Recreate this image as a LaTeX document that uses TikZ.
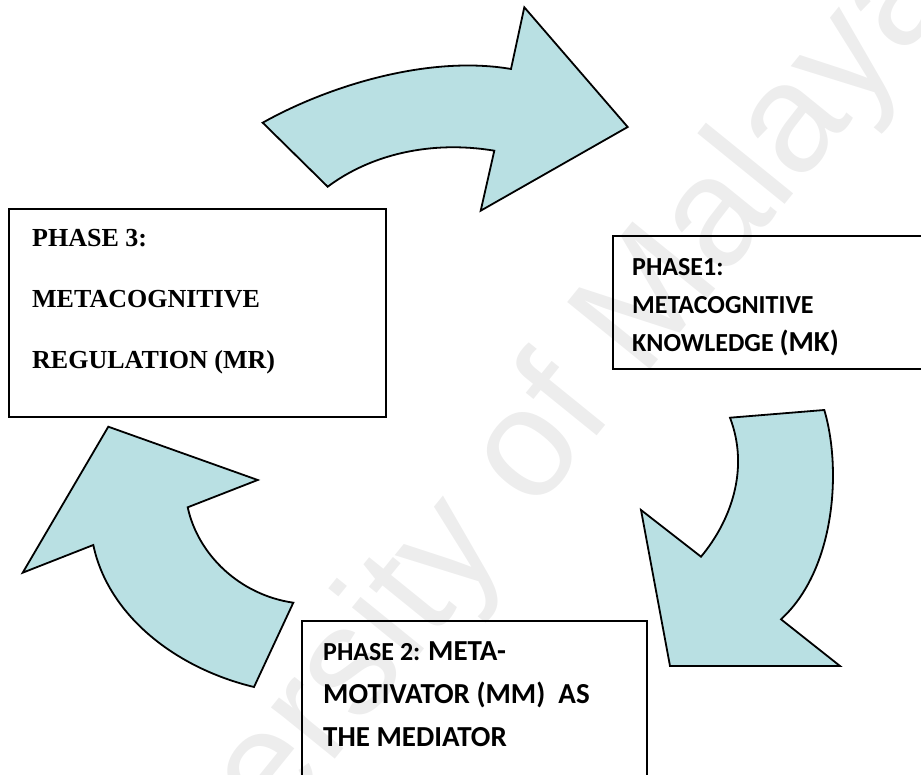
\documentclass[tikz,border=0pt]{standalone}
\usepackage{fontspec}
\setmainfont{Liberation Serif}
\newfontfamily\calibrifont{Carlito}
\newfontfamily\markfont{Liberation Sans}
\definecolor{arrowfill}{RGB}{185,224,227}
\newcommand{\bigpart}[1]{{\fontsize{29}{34}\selectfont #1}}
\begin{document}
\begin{tikzpicture}[x=1pt,y=-1pt,
  cyclearrow/.style={fill=arrowfill,draw=black,line width=1.8pt,line join=miter},
  phasebox/.style={draw=black,line width=1.8pt},
  serifline/.style={anchor=base west,inner sep=0pt,font=\fontsize{26}{30}\selectfont\bfseries},
  sansline/.style={anchor=base west,inner sep=0pt,font=\calibrifont\fontsize{26}{30}\selectfont\bfseries},
  watermark/.style={rotate=51,inner sep=0pt,text=black!7,font=\markfont\fontsize{155}{155}\selectfont}]
\useasboundingbox (0,0) rectangle (921,775);
\clip (0,0) rectangle (921,775);

% faint watermark behind everything
\node[watermark] (wm) at (487,508) {University of Malaya};

% phase boxes
\draw[phasebox] (9,209) rectangle (386,417);
\draw[phasebox] (613,236) rectangle (940,369);
\draw[phasebox] (302,621) rectangle (647,800);

% phase 3
\node[serifline] (p3a) at (32,247) {PHASE 3:};
\node[serifline] (p3b) at (32,308) {METACOGNITIVE};
\node[serifline] (p3c) at (32,369) {REGULATION (MR)};

% phase 1
\node[sansline] (p1a) at (632,276) {PHASE1:};
\node[sansline] (p1b) at (632,314) {METACOGNITIVE};
\node[sansline] (p1c) at (632,352) {KNOWLEDGE \bigpart{(MK)}};

% phase 2
\node[sansline] (p2a) at (323,660) {PHASE 2: \bigpart{META-}};
\node[sansline] (p2b) at (323,703) {\bigpart{MOTIVATOR (MM)\ \ AS}};
\node[sansline] (p2c) at (323,746) {\bigpart{THE MEDIATOR}};

% top arrow: phase 3 -> phase 1
\draw[cyclearrow] (262.7,122.7) .. controls (330,85) and (430,55) .. (511,69)
  -- (524.3,7.3) -- (627.7,127) -- (480.7,210.7) -- (494.3,150.7)
  .. controls (430,140) and (370,155) .. (327.7,186.7) -- cycle;

% right arrow: phase 1 -> phase 2
\draw[cyclearrow] (730,417.7) -- (824.3,410)
  .. controls (842,470) and (835,570) .. (781,619.3)
  -- (840,666) -- (670,666) -- (641,510) -- (701,556.7)
  .. controls (730,522) and (750,470) .. cycle;

% left arrow: phase 2 -> phase 3
\draw[cyclearrow] (108.3,426.7) -- (257.7,480) -- (187.7,507.3)
  .. controls (198,555) and (240,595) .. (293.3,602.7)
  -- (254,687)
  .. controls (175,668) and (108,615) .. (93.3,545)
  -- (22.7,572.7) -- cycle;
\end{tikzpicture}
\end{document}
